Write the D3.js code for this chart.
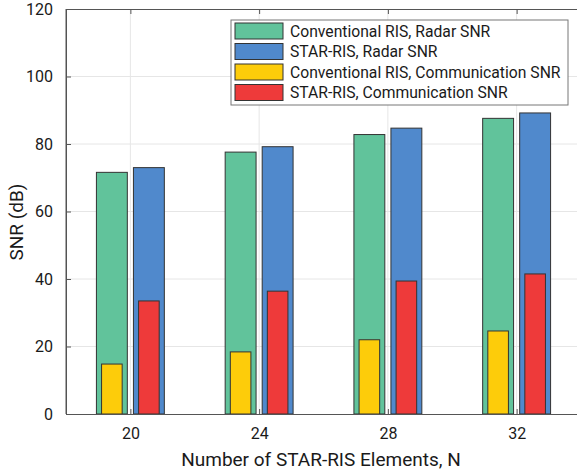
<!DOCTYPE html>
<html><head><meta charset="utf-8">
<script src="https://cdn.jsdelivr.net/npm/d3@7/dist/d3.min.js"></script>
<style>
body{margin:0;background:#fff;}
text{font-family:"Roboto","DejaVu Sans",sans-serif;fill:#1a1a1a;}
</style></head><body>
<svg id="c" width="577" height="473"></svg>
<script>
const categories = [20, 24, 28, 32];
const convRadar = [71.6, 77.6, 82.8, 87.6];
const starRadar = [73.0, 79.2, 84.7, 89.2];
const convComm = [14.8, 18.4, 22.0, 24.6];
const starComm = [33.5, 36.4, 39.4, 41.5];
const yTicks = [0, 20, 40, 60, 80, 100, 120];
const seriesNames = ["Conventional RIS, Radar SNR", "STAR-RIS, Radar SNR", "Conventional RIS, Communication SNR", "STAR-RIS, Communication SNR"];
const colors = ["#61c39b", "#5089cc", "#fdcc0a", "#ee3a3a"];

const svg = d3.select("#c");
const L = 66, T = 9, B = 414, R = 581;
const x = d3.scaleLinear().domain([18, 34]).range([L, R]);
const y = d3.scaleLinear().domain([0, 120]).range([B, T]);
const u = x(1) - x(0);

// grid
svg.append("g").selectAll("line.h").data(yTicks.slice(1, -1)).join("line")
  .attr("x1", L).attr("x2", 577).attr("y1", d => y(d)).attr("y2", d => y(d))
  .attr("stroke", "#e6e6e6").attr("stroke-width", 1);
svg.append("g").selectAll("line.v").data(categories).join("line")
  .attr("x1", d => x(d)).attr("x2", d => x(d)).attr("y1", T).attr("y2", B)
  .attr("stroke", "#e6e6e6").attr("stroke-width", 1);

// bars
const wide = 0.96 * u, narrow = 0.64 * u, off = 0.575 * u;
const groups = [
  {vals: convRadar, c: colors[0], w: wide, o: -off},
  {vals: starRadar, c: colors[1], w: wide, o: off},
  {vals: convComm, c: colors[2], w: narrow, o: -off},
  {vals: starComm, c: colors[3], w: narrow, o: off}
];
groups.forEach(g => {
  svg.append("g").selectAll("rect").data(categories).join("rect")
    .attr("x", (d, i) => x(d) + g.o - g.w / 2)
    .attr("width", g.w)
    .attr("y", (d, i) => y(g.vals[i]))
    .attr("height", (d, i) => y(0) - y(g.vals[i]))
    .attr("fill", g.c).attr("stroke", "#333").attr("stroke-width", 1);
});

// axes
const yAxis = d3.axisLeft(y).tickValues(yTicks).tickSize(-5).tickPadding(13);
const ga = svg.append("g").attr("transform", `translate(${L},0)`).call(yAxis);
ga.select(".domain").attr("stroke", "#555");
ga.selectAll(".tick line").attr("stroke", "#555");
ga.selectAll("text").style("font-size", "16px").attr("fill", "#1a1a1a");

const xAxis = d3.axisBottom(x).tickValues(categories).tickSize(-5).tickPadding(14).tickSizeOuter(0);
const gx = svg.append("g").attr("transform", `translate(0,${B})`).call(xAxis);
gx.select(".domain").attr("stroke", "#555");
gx.selectAll(".tick line").attr("stroke", "#555");
gx.selectAll("text").style("font-size", "16px").attr("fill", "#1a1a1a");

const xTop = d3.axisTop(x).tickValues(categories).tickSize(-5).tickFormat("").tickSizeOuter(0);
const gt = svg.append("g").attr("transform", `translate(0,${T})`).call(xTop);
gt.select(".domain").attr("stroke", "#555");
gt.selectAll(".tick line").attr("stroke", "#555");

svg.append("line").attr("x1", L).attr("x2", L).attr("y1", T).attr("y2", B).attr("stroke", "#555");

// labels
svg.append("text").attr("x", 321).attr("y", 466).attr("text-anchor", "middle")
  .style("font-size", "19px").text("Number of STAR-RIS Elements, N");
svg.append("text").attr("transform", "translate(23,222) rotate(-90)").attr("text-anchor", "middle")
  .style("font-size", "19px").text("SNR (dB)");

// legend
const lg = svg.append("g");
lg.append("rect").attr("x", 231).attr("y", 20).attr("width", 337).attr("height", 85)
  .attr("fill", "#fff").attr("stroke", "#777").attr("stroke-width", 1);
seriesNames.forEach((n, i) => {
  const yy = 23 + i * 20.5;
  lg.append("rect").attr("x", 235).attr("y", yy).attr("width", 48).attr("height", 16)
    .attr("fill", colors[i]).attr("stroke", "#333");
  lg.append("text").attr("x", 290).attr("y", yy + 13.5).style("font-size", "15.7px").text(n);
});
</script>
</body></html>
